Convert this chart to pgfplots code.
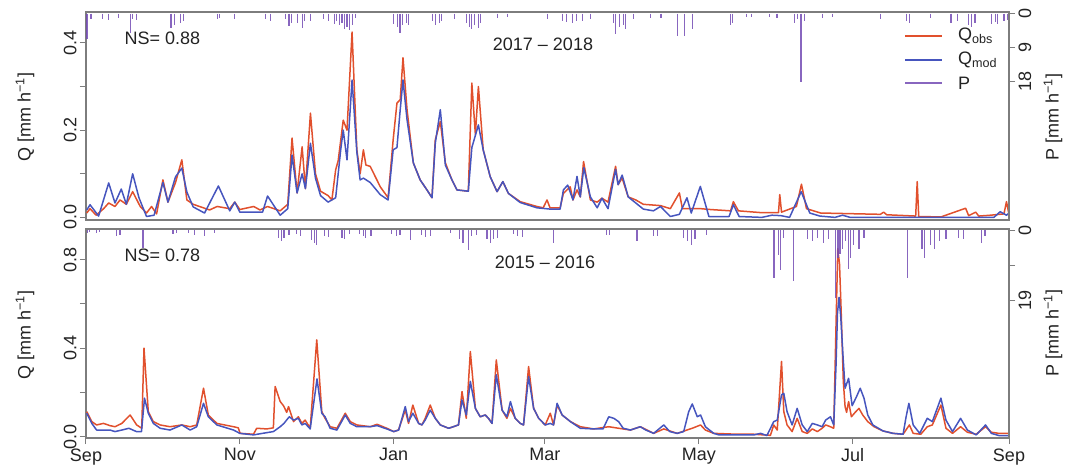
\documentclass[border=0pt]{standalone}
\usepackage{fontspec}
\setmainfont{Liberation Sans}
\usepackage{pgfplots}
\pgfplotsset{compat=1.18}
\newcommand\fs{\fontsize{18}{21}\selectfont}
\definecolor{cobs}{RGB}{225,80,45}
\definecolor{cmod}{RGB}{70,85,190}
\definecolor{cp}{RGB}{115,75,180}
\definecolor{frame}{RGB}{125,125,125}
\definecolor{txt}{RGB}{35,35,35}
\pgfplotsset{
  base/.style={scale only axis, width=923pt, xmin=0, xmax=366,
    axis line style={frame, line width=1.3pt},
    every tick/.style={frame, line width=1pt},
    major tick length=6pt, tick align=outside,
    tick label style={font=\fs, text=txt},
    clip=true},
  qax/.style={base, ytick pos=left, yticklabel style={rotate=90, anchor=south}},
  pax/.style={base, axis x line=none, axis y line*=right, y dir=reverse,
    ytick pos=right, yticklabel style={rotate=90, anchor=north}},
  obs/.style={cobs, line width=1.5pt, line join=round},
  mod/.style={cmod, line width=1.5pt, line join=round},
  pp/.style={cp, line width=1.1pt, opacity=0.85},
}
\begin{document}
\begin{tikzpicture}
\useasboundingbox (0,0) rectangle (1080pt,469pt);
% ================= TOP PANEL 2017-2018 =================
\begin{axis}[qax, at={(86pt,249pt)}, anchor=south west, height=208pt,
  ymin=-0.006, ymax=0.471, ytick={0,0.1,0.2,0.3,0.4}, yticklabels={0.0,,0.2,,0.4},
  xtick=\empty]
\addplot[obs] table {
0.3 0.010
1.6 0.020
4 0.005
7 0.020
9 0.033
11.5 0.025
13.5 0.040
16 0.030
18.5 0.059
21.5 0.025
24 0.010
26 0.025
28 0.008
30.5 0.086
32.5 0.035
35.5 0.080
38 0.132
40 0.040
42.5 0.030
49 0.017
52 0.025
57 0.020
59 0.035
61 0.018
66.5 0.025
69 0.017
72 0.025
77 0.015
80 0.030
81.7 0.182
83.7 0.056
85.7 0.162
87 0.066
89 0.239
91 0.100
93 0.060
96 0.050
97.5 0.040
99 0.109
100 0.130
102 0.223
103.5 0.200
105.5 0.425
107.4 0.155
108.7 0.100
110 0.155
111 0.120
112.7 0.117
116.7 0.070
119.8 0.045
121.8 0.178
123.3 0.262
124.6 0.270
125.7 0.366
127.3 0.247
129.8 0.125
132.5 0.086
135.2 0.063
137.2 0.045
138.5 0.178
140.5 0.220
142.5 0.125
145.1 0.086
147.1 0.063
151.6 0.060
153 0.308
154.4 0.190
155.6 0.300
157.5 0.155
160.3 0.093
163 0.059
165.3 0.082
167.5 0.055
172.2 0.036
178.8 0.025
181.3 0.022
182.8 0.040
184 0.022
188 0.022
189.3 0.055
192 0.070
193.1 0.040
194.7 0.063
196 0.047
197.3 0.128
200 0.040
202.7 0.035
204.6 0.044
207 0.035
210 0.117
211 0.075
212.6 0.090
215 0.047
218 0.040
221 0.030
227.8 0.027
231.7 0.020
235.3 0.056
236.5 0.020
243.7 0.020
247.6 0.018
255.6 0.015
256.7 0.036
258.7 0.015
267.5 0.011
274.6 0.011
275.1 0.052
275.8 0.012
281.7 0.025
283.7 0.076
285.7 0.020
291.3 0.010
315 0.007
316.3 0.012
317.5 0.006
329 0.003
329.6 0.082
330.2 0.002
339 0.001
348.8 0.021
350 0.004
352.8 0.012
354 0.003
358.7 0.005
364 0.008
365 0.036
365.9 0.010
};
\addplot[mod] table {
0.3 0.017
1.6 0.029
5 0.003
9 0.079
11.5 0.033
14 0.065
16 0.030
18.5 0.100
21 0.045
24 0.002
27 0.005
30.5 0.080
32.5 0.035
35.5 0.093
38 0.113
40 0.058
42.5 0.024
47 0.010
52.5 0.072
57 0.015
59 0.035
61 0.012
70 0.012
72 0.049
77 0.005
80 0.020
81.7 0.143
83.7 0.056
85.7 0.100
87 0.066
89 0.170
91 0.090
93 0.050
96 0.035
99 0.045
101 0.155
102 0.200
103.5 0.132
105.5 0.315
107.4 0.150
108.7 0.086
110 0.090
112.7 0.080
116.7 0.052
119.8 0.040
121.8 0.155
123.3 0.160
124.6 0.247
125.7 0.315
127.3 0.224
129.8 0.125
132.5 0.086
135.2 0.063
137.2 0.045
138.5 0.170
140.5 0.247
142.5 0.120
145.1 0.086
147.1 0.063
151.6 0.060
153 0.160
155.6 0.212
157.5 0.155
160.3 0.093
163 0.059
165.3 0.082
167.5 0.055
172.2 0.034
178.8 0.022
184 0.019
188 0.019
189.3 0.063
191 0.074
193.1 0.040
194.7 0.094
196 0.047
197.4 0.114
200 0.047
202.7 0.022
204.6 0.044
207 0.020
210 0.110
211 0.075
212.6 0.097
215 0.047
221 0.019
225 0.015
227.8 0.025
231.7 0.002
235.3 0.007
238.3 0.045
240 0.010
243.6 0.071
247 0.002
255 0.002
256.7 0.029
259 0.002
268 0.000
272 0.005
275.5 0.004
279 0.000
283.6 0.059
287 0.010
291 0.003
297 0.000
300 0.005
303 0.000
330 0.000
352 0.000
360 0.000
362.5 0.013
365 0.005
366 0.010
};
\end{axis}
\begin{axis}[pax, at={(86pt,249pt)}, anchor=south west, height=208pt,
  ymin=-0.45, ymax=54.6, ytick={0,9,18}, yticklabels={0,9,18}]
\addplot[pp, ycomb] table {
0.4 6.6
2 1.5
6.7 1.3
9 1.6
13 1.2
17.5 5
18.5 1.5
20 1.6
33.7 3.7
35 3
37.5 2.5
38.5 1.8
52 1.5
53 1.2
59 1.5
71 1.5
73 1.8
79 1.5
80.5 3.2
81.5 2.5
84 2.5
85.7 3.7
86.5 1.8
89 2
94 1.5
96 1.8
98.5 2.6
99.5 2
100.5 3
101.5 2.5
102.5 4
103.5 3.5
104.5 4.3
105.5 3
107 1.2
122 2.6
123.5 3.5
124.5 5
125.5 3
127 2.5
128 3
137.5 2
138.5 3
140 2.5
141 2
146 1.5
151 2.5
152 3.5
153 4
154 3
155.5 3.7
156.5 2.5
163 1.2
167 1
183 1.5
189 2
190.5 2.2
193 2.5
194.5 1.8
197 2
200 1.4
209 2.5
210 5.3
211.5 3.5
213 3
214 4
217 1.5
224 1.2
228 1.2
234.5 5.8
237.5 5.8
240.5 4
255.5 3
256.5 2.5
262 1
264 1
271 1
274 1.2
281 2.5
282 1.5
283.5 18
285 1.8
292 1.2
296 1
315 1.4
325.5 2
326.5 2.5
335 1.2
343 2.5
345.5 1.8
350 3
351 3.5
352.5 2.5
359 2.8
360.5 2.2
361.5 2.8
364 1.8
365.5 1.6
};
\end{axis}
% ================= BOTTOM PANEL 2015-2016 =================
\begin{axis}[qax, at={(86pt,31pt)}, anchor=south west, height=209pt,
  ymin=-0.006, ymax=0.939, ytick={0,0.2,0.4,0.6,0.8}, yticklabels={0.0,,0.4,,0.8},
  xtick={0,61,122,182,243,304,366}, xticklabels={Sep,Nov,Jan,Mar,May,Jul,Sep},
  xtick pos=left, xticklabel style={yshift=-1pt}]
\addplot[obs] table {
0.3 0.113
2.3 0.068
4.2 0.053
6.9 0.060
9.5 0.050
11.5 0.045
14.2 0.060
17.5 0.098
20.1 0.053
22.1 0.038
23 0.400
24.7 0.113
26.7 0.068
29.4 0.053
33.3 0.045
38 0.053
41.3 0.045
43.9 0.053
46.6 0.219
48.5 0.098
51.9 0.060
58.5 0.045
60.4 0.040
61.1 0.015
66.4 0.011
67.7 0.038
71.7 0.035
74.3 0.040
75 0.227
77 0.159
78.3 0.140
79.6 0.110
80.3 0.136
82.3 0.068
84.2 0.090
85.6 0.060
86.9 0.075
88.9 0.038
91.5 0.438
93.5 0.113
94.8 0.083
96.8 0.045
99.5 0.038
102.8 0.106
104.8 0.068
107.4 0.053
112.7 0.045
115.4 0.056
119.3 0.038
122 0.023
123.9 0.030
126.6 0.120
127.9 0.060
129.6 0.143
131.9 0.060
133.2 0.053
134.5 0.083
136.5 0.143
138.5 0.083
140.5 0.053
143.8 0.038
147.7 0.053
149.1 0.204
150.8 0.083
152.4 0.385
154.4 0.128
156.3 0.090
158.3 0.098
159.6 0.083
161 0.060
162.7 0.347
165 0.120
166.9 0.083
168.3 0.128
170.2 0.083
172.2 0.060
173.5 0.053
175.5 0.317
177.5 0.128
179.5 0.083
182.1 0.053
184.1 0.106
185.4 0.053
186.8 0.143
188.8 0.098
192.1 0.068
196 0.045
201.3 0.035
207.3 0.045
211.2 0.038
215.9 0.030
219.8 0.045
225.1 0.015
229.1 0.035
234.4 0.015
240.4 0.038
243.7 0.053
245.6 0.030
248.9 0.015
258.2 0.011
264.8 0.011
271.4 0.006
272.7 0.053
274.1 0.030
275.8 0.340
276.7 0.113
278 0.053
280 0.023
282 0.083
284 0.023
286 0.015
288 0.035
290 0.023
291.9 0.038
293.3 0.053
295.2 0.045
296.5 0.038
297.4 0.500
298.1 0.850
298.8 0.780
299.5 0.550
300.3 0.250
301 0.136
301.6 0.110
302.4 0.159
303.5 0.090
305 0.110
306.5 0.128
308 0.098
310 0.068
312.5 0.045
316 0.026
320 0.015
324 0.011
326.5 0.053
328 0.015
331 0.011
333.6 0.045
335.6 0.053
339 0.143
341 0.038
343.6 0.015
346.8 0.045
349.5 0.020
353 0.011
356.7 0.045
359 0.020
362 0.015
366 0.015
};
\addplot[mod] table {
0.3 0.106
2.3 0.060
4.2 0.030
9.5 0.030
11.5 0.023
14.2 0.030
17 0.038
20 0.023
22 0.023
23.2 0.174
24.7 0.106
26.7 0.060
29.4 0.038
33.3 0.030
38 0.053
41.3 0.030
43.9 0.045
46.6 0.151
48.5 0.090
51.9 0.053
58.5 0.030
61 0.015
66.4 0.008
70 0.015
74.3 0.023
77 0.045
78.5 0.060
80.6 0.090
82.3 0.075
84.2 0.083
85.6 0.053
86.9 0.060
88.9 0.035
91.6 0.261
93.5 0.106
94.8 0.090
96.8 0.038
99.5 0.030
102.8 0.098
104.8 0.060
107.4 0.045
112.7 0.045
115.4 0.050
119.3 0.035
122 0.023
124 0.030
126.6 0.136
127.9 0.068
129.6 0.106
131.9 0.060
133.2 0.053
134.5 0.075
136.5 0.120
138.5 0.083
140.5 0.053
143.8 0.038
147.7 0.053
149.1 0.166
150.8 0.098
152.4 0.250
154.4 0.128
156.3 0.090
158.3 0.098
159.6 0.083
161 0.060
162.7 0.280
165 0.120
166.9 0.090
168.3 0.159
170.2 0.083
172.2 0.060
173.5 0.053
175.5 0.272
177.5 0.128
179.5 0.083
182.1 0.053
184.1 0.060
185.4 0.053
186.8 0.151
188.8 0.098
192.1 0.068
196 0.038
201.3 0.035
205 0.035
207.3 0.090
209.3 0.083
211.2 0.068
213 0.038
215.9 0.030
219.8 0.045
222 0.030
225.1 0.015
229.1 0.053
231.5 0.023
234.4 0.015
237 0.023
239 0.113
240.4 0.148
242.4 0.090
243.7 0.098
245.6 0.045
248.9 0.015
251 0.008
258 0.008
264.8 0.008
267.5 0.015
270 0.005
272.7 0.068
274.1 0.075
275.8 0.189
276.7 0.196
278 0.113
280 0.053
282 0.128
284 0.053
286 0.023
288 0.060
290 0.053
291.9 0.045
293.3 0.075
295.2 0.090
296.5 0.053
297.4 0.320
298 0.560
298.6 0.630
299.3 0.540
300.2 0.360
301 0.219
302.4 0.264
303.8 0.140
305.5 0.180
307 0.219
308.5 0.174
310 0.098
312 0.053
316 0.026
320 0.015
324 0.011
325.2 0.090
326.3 0.151
328 0.053
330.6 0.015
333.6 0.083
335.6 0.068
339 0.174
341 0.075
343.6 0.023
346.8 0.083
349.5 0.030
353 0.008
356.7 0.053
359 0.015
362 0.005
366 0.005
};
\end{axis}
\begin{axis}[pax, at={(86pt,31pt)}, anchor=south west, height=209pt,
  ymin=-0.3, ymax=56, ytick={0,9.5,19}, yticklabels={0,,19}]
\addplot[pp, ycomb] table {
0.5 0.8
1.5 0.6
4 0.8
5.5 0.5
12 1.7
13.5 1.2
22.6 4.7
34.5 1
36 0.8
40.5 0.8
43 1.2
47 1.7
51 0.8
76.5 2
77.5 2.8
78.5 2
80.5 1.2
83.5 1
85 1.5
89.5 2.6
90.5 3.5
91.5 4
94.5 1.5
96 1.8
101.5 2
102.5 2.5
104.5 1
108.5 1
110 1.5
111 2
113 1.5
121 1
123 1.5
124.5 1.2
128.5 2.6
133 1.2
134.5 1.8
136.5 1.5
144.5 0.8
148 2.5
149.5 3.5
151.5 5.3
153 1.5
155 1.2
159 2.5
160.5 3.5
161.5 2.5
163 2
169.5 1
171 1.5
173 1.8
185.5 3.5
206.5 1.2
207.5 1.2
218.5 3
225 1.5
226.5 1.5
237 2
238.5 3
240 4
241.5 2.5
246 1.2
272.8 12.9
274.5 6.6
275.4 10.7
276.5 2
280.7 13.8
286 2.5
288 3
290 2
292.5 3.5
294.5 2.5
297.2 18.2
298.2 7.4
299 6.5
300 5
301 3
302.5 10.5
303 7.5
304.5 4
306.5 5
308.5 2
325.7 12.9
331.5 5
332.5 7.4
335 4
336.5 5
338.5 3
341 2.5
346 2
348 2.5
355 3.5
356.5 1.5
};
\end{axis}
% ================= TEXT AND LEGEND =================
\begin{scope}[every node/.style={font=\fs, text=txt}]
\node[anchor=west] at (121pt,431pt) {NS= 0.88};
\node at (543pt,425pt) {2017 – 2018};
\node[anchor=west] at (121pt,214pt) {NS= 0.78};
\node at (545pt,207pt) {2015 – 2016};
\node[rotate=90] at (25pt,352pt) {Q [mm h\textsuperscript{−1}]};
\node[rotate=90] at (25pt,134pt) {Q [mm h\textsuperscript{−1}]};
\node[rotate=90] at (1053pt,352pt) {P [mm h\textsuperscript{−1}]};
\node[rotate=90] at (1053pt,136pt) {P [mm h\textsuperscript{−1}]};
\draw[cobs, line width=1.5pt] (905pt,433pt) -- (942pt,433pt);
\draw[cmod, line width=1.5pt] (905pt,409pt) -- (942pt,409pt);
\draw[cp, line width=1.1pt, opacity=0.85] (905pt,386pt) -- (942pt,386pt);
\node[anchor=west, inner sep=0pt] at (958pt,433pt) {Q\textsubscript{obs}};
\node[anchor=west, inner sep=0pt] at (958pt,409pt) {Q\textsubscript{mod}};
\node[anchor=west, inner sep=0pt] at (958pt,386pt) {P};
\end{scope}
\end{tikzpicture}
\end{document}
